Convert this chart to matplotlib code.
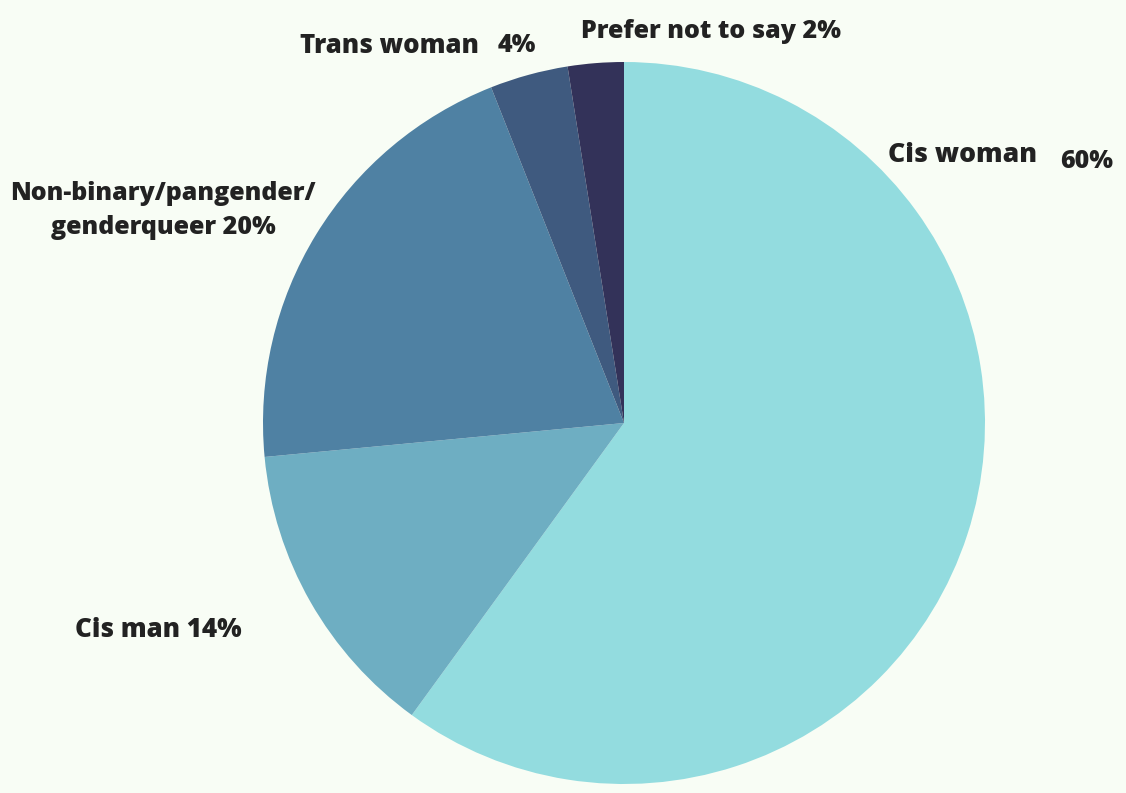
import matplotlib.pyplot as plt

# data
labels = ['Cis woman', 'Cis man', 'Non-binary/pangender/genderqueer', 'Trans woman', 'Prefer not to say']
pct_labels = ['60%', '14%', '20%', '4%', '2%']        # as printed on the chart
shares = [60, 13.5, 20.5, 3.5, 2.5]                    # slice sizes as drawn
colors = ['#93DCDF', '#6EAEC2', '#4F81A3', '#3F5A7F', '#333259']

W, H = 1126, 793
bg = '#F8FDF5'
txt = '#222222'

fig = plt.figure(figsize=(W / 100, H / 100), dpi=100, facecolor=bg)
ax = fig.add_axes([0, 0, 1, 1])

ax.pie(shares, colors=colors, startangle=90, counterclock=False,
       center=(624, H - 423), radius=361, frame=True,
       wedgeprops=dict(linewidth=0))
ax.set_xlim(0, W)
ax.set_ylim(0, H)
ax.set_aspect('equal')
ax.axis('off')

font = dict(family=['Open Sans', 'DejaVu Sans'], fontweight='heavy', color=txt)


def put(x, y, s, size=18, **kw):
    ax.text(x, H - y, s, va='center', fontsize=size, **font, **kw)


put(300, 46, 'Trans woman', size=18.6)
put(498, 46, pct_labels[3])
put(581, 31, 'Prefer not to say ' + pct_labels[4])
put(888, 155, 'Cis woman', size=19.2)
put(1060, 162, pct_labels[0])
put(163, 193, 'Non-binary/pangender/', ha='center')
put(163, 228, 'genderqueer ' + pct_labels[2], ha='center')
put(75, 630, 'Cis man ' + pct_labels[1], size=18.6)

fig.savefig('out.png', dpi=100, facecolor=bg)
